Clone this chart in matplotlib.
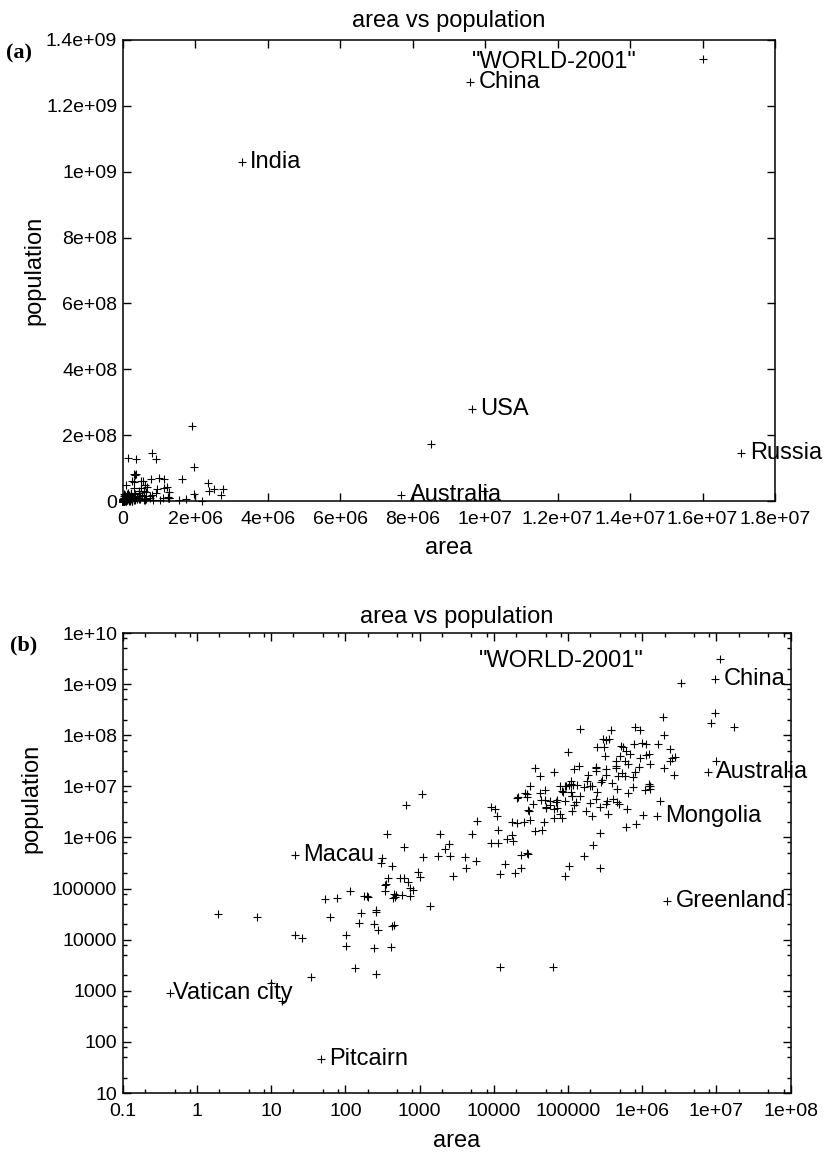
import numpy as np
import matplotlib
matplotlib.use("Agg")
import matplotlib.pyplot as plt
from matplotlib.ticker import FuncFormatter, LogLocator, NullFormatter

plt.rcParams['font.family'] = ['Liberation Sans', 'DejaVu Sans']

# "WORLD-2001" : country, area (km^2), population
countries = [
    "Afghanistan", "Albania", "Algeria", "American Samoa", "Andorra", "Angola",
    "Anguilla", "Antigua and Barbuda", "Argentina", "Armenia", "Aruba", "Australia",
    "Austria", "Azerbaijan", "Bahamas", "Bahrain", "Bangladesh", "Barbados",
    "Belarus", "Belgium", "Belize", "Benin", "Bermuda", "Bhutan", "Bolivia",
    "Bosnia", "Botswana", "Brazil", "British Virgin Islands", "Brunei", "Bulgaria",
    "Burkina Faso", "Burma", "Burundi", "Cambodia", "Cameroon", "Canada",
    "Cape Verde", "Cayman Islands", "Central African Rep", "Chad", "Chile", "China",
    "Christmas Island", "Cocos Islands", "Colombia", "Comoros", "Congo DR",
    "Congo Rep", "Cook Islands", "Costa Rica", "Cote d'Ivoire", "Croatia", "Cuba",
    "Cyprus", "Czech Republic", "Denmark", "Djibouti", "Dominica",
    "Dominican Republic", "East Timor", "Ecuador", "Egypt", "El Salvador",
    "Equatorial Guinea", "Eritrea", "Estonia", "Ethiopia", "Falkland Islands",
    "Faroe Islands", "Fiji", "Finland", "France", "French Guiana",
    "French Polynesia", "Gabon", "Gambia", "Gaza Strip", "Georgia", "Germany",
    "Ghana", "Gibraltar", "Greece", "Greenland", "Grenada", "Guadeloupe", "Guam",
    "Guatemala", "Guernsey", "Guinea", "Guinea-Bissau", "Guyana", "Haiti",
    "Vatican city", "Honduras", "Hong Kong", "Hungary", "Iceland", "India",
    "Indonesia", "Iran", "Iraq", "Ireland", "Isle of Man", "Israel", "Italy",
    "Jamaica", "Japan", "Jersey", "Jordan", "Kazakhstan", "Kenya", "Kiribati",
    "Korea North", "Korea South", "Kuwait", "Kyrgyzstan", "Laos", "Latvia",
    "Lebanon", "Lesotho", "Liberia", "Libya", "Liechtenstein", "Lithuania",
    "Luxembourg", "Macau", "Macedonia", "Madagascar", "Malawi", "Malaysia",
    "Maldives", "Mali", "Malta", "Marshall Islands", "Martinique", "Mauritania",
    "Mauritius", "Mayotte", "Mexico", "Micronesia", "Moldova", "Monaco",
    "Mongolia", "Montserrat", "Morocco", "Mozambique", "Namibia", "Nauru",
    "Nepal", "Netherlands", "Netherlands Antilles", "New Caledonia",
    "New Zealand", "Nicaragua", "Niger", "Nigeria", "Niue", "Norfolk Island",
    "Northern Mariana", "Norway", "Oman", "Pakistan", "Palau", "Panama",
    "Papua New Guinea", "Paraguay", "Peru", "Philippines", "Pitcairn", "Poland",
    "Portugal", "Puerto Rico", "Qatar", "Reunion", "Romania", "Russia", "Rwanda",
    "Saint Helena", "Saint Kitts", "Saint Lucia", "Saint Pierre", "Saint Vincent",
    "Samoa", "San Marino", "Sao Tome", "Saudi Arabia", "Senegal", "Seychelles",
    "Sierra Leone", "Singapore", "Slovakia", "Slovenia", "Solomon Islands",
    "Somalia", "South Africa", "Spain", "Sri Lanka", "Sudan", "Suriname",
    "Svalbard", "Swaziland", "Sweden", "Switzerland", "Syria", "Taiwan",
    "Tajikistan", "Tanzania", "Thailand", "Togo", "Tokelau", "Tonga", "Trinidad",
    "Tunisia", "Turkey", "Turkmenistan", "Turks and Caicos", "Tuvalu", "Uganda",
    "Ukraine", "UAE", "United Kingdom", "USA", "Uruguay", "Uzbekistan", "Vanuatu",
    "Venezuela", "Vietnam", "Virgin Islands", "Wallis and Futuna", "West Bank",
    "Western Sahara", "Yemen", "Yugoslavia", "Zambia", "Zimbabwe",
]

area = [
    647500, 28748, 2381740, 199, 468, 1246700,
    102, 443, 2766890, 29800, 193, 7686850,
    83858, 86600, 13940, 620, 144000, 430,
    207600, 30510, 22966, 112620, 53, 47000, 1098580,
    51129, 600370, 8511965, 153, 5770, 110910,
    274200, 678500, 27830, 181040, 475440, 9976140,
    4033, 262, 622984, 1284000, 756950, 9596960,
    135, 14, 1138910, 2170, 2345410,
    342000, 240, 51100, 322460, 56538, 110860,
    9250, 78866, 43094, 23000, 754,
    48730, 15007, 283560, 1001450, 21040,
    28051, 121320, 45226, 1127127, 12173,
    1399, 18270, 337030, 547030, 91000,
    4167, 267667, 11300, 360, 69700, 357021,
    238540, 6.5, 131940, 2175600, 340, 1780, 549,
    108890, 78, 245857, 36120, 214970, 27750,
    0.44, 112090, 1092, 93030, 103000, 3287590,
    1919440, 1648000, 437072, 70280, 572, 20770, 301230,
    10990, 377835, 116, 92300, 2717300, 582650, 811,
    120540, 98480, 17820, 198500, 236800, 64589,
    10400, 30355, 111370, 1759540, 160, 65200,
    2586, 21, 25333, 587040, 118480, 329750,
    300, 1240000, 316, 181, 1100, 1030700,
    1860, 374, 1972550, 702, 33843, 1.95,
    1565000, 102, 446550, 801590, 825418, 21,
    140800, 41526, 960, 19060,
    268680, 129494, 1267000, 923768, 260, 34.6,
    477, 324220, 212460, 803940, 458, 78200,
    462840, 406750, 1285220, 300000, 47, 312685,
    92391, 9104, 11437, 2517, 237500, 17075200, 26338,
    410, 261, 620, 242, 340,
    2860, 61.2, 1001, 1960582, 196190, 455,
    71740, 647.5, 48845, 20273, 28450,
    637657, 1219912, 504782, 65610, 2505810, 163270,
    62049, 17363, 449964, 41290, 185180, 35980,
    143100, 945087, 514000, 56785, 10, 748, 5128,
    163610, 780580, 488100, 430, 26, 236040,
    603700, 82880, 244820, 9629091, 176220, 447400, 12200,
    912050, 329560, 352, 274, 5860,
    266000, 527970, 102350, 752614, 390580,
]

population = [
    26813057, 3510484, 31736053, 67084, 67627, 10366031,
    12132, 66422, 37384816, 3336100, 70007, 19357594,
    8150835, 7771092, 297852, 645361, 131269860, 275330,
    10350194, 10258762, 256062, 6590782, 63503, 2049412, 8300463,
    3922205, 1586119, 174468575, 20812, 343653, 7707495,
    12272289, 41994678, 6223897, 12491501, 15803220, 31592805,
    405163, 35527, 3576884, 8707078, 15328467, 1273111290,
    2771, 633, 40349388, 596202, 53624718,
    2894336, 20611, 3773057, 16393221, 4334142, 11184023,
    762887, 10264212, 5352815, 460700, 70786,
    8581477, 952618, 13183978, 69536644, 6237662,
    486060, 4298269, 1423316, 65891874, 2895,
    45661, 844330, 5175783, 59551227, 177562,
    253506, 1221175, 1411205, 1178119, 4989285, 83029536,
    19894014, 27649, 10623835, 56352, 89227, 431170, 157557,
    12974361, 64342, 7613870, 1315822, 697181, 6964549,
    890, 6406052, 7210505, 10106017, 277906, 1029991145,
    228437870, 66128965, 23331985, 3840838, 73489, 5938093, 57679825,
    2665636, 126771662, 89361, 5153378, 16731303, 30765916, 94149,
    21968228, 47904370, 2041961, 4753003, 5635967, 2385231,
    3627774, 2177062, 3225837, 5240599, 32528, 3610535,
    442972, 453733, 2046209, 15982563, 10548250, 22229040,
    310764, 11008518, 394583, 70822, 418454, 2747312,
    1189825, 163366, 101879171, 134597, 4431570, 31842,
    2654999, 7574, 30645305, 19371057, 1797677, 12088,
    25284463, 15981472, 212226, 204863,
    3864129, 4918393, 10355156, 126635626, 2124, 1879,
    74612, 4503440, 2622198, 144616639, 19092, 2845647,
    5049055, 5734139, 27483864, 82841518, 47, 38633912,
    10066253, 3937316, 769152, 732570, 22364022, 145470197, 7312756,
    7266, 38756, 158178, 6928, 115942,
    179058, 27336, 165034, 22757092, 10284929, 79326,
    5426618, 4300419, 5414937, 1930132, 480442,
    7488773, 43586097, 40037995, 19408635, 36080373, 433998,
    2868, 1104343, 8875053, 7283274, 16728808, 22370461,
    6578681, 36232074, 61797751, 5153088, 1445, 104227, 1169682,
    9705102, 66493970, 4603244, 18122, 10991, 23985712,
    48760474, 2407460, 59647790, 278058881, 3360105, 25155064, 192910,
    23916810, 79939014, 122211, 15435, 2090713,
    250559, 18078035, 10677290, 9770199, 11365366,
]

labels_a = ["China", "India", "USA", "Russia", "Australia"]
labels_b = ["China", "Australia", "Mongolia", "Macau", "Greenland",
            "Vatican city", "Pitcairn"]

xticks_a = np.arange(0, 1.8e7 + 1, 2e6)
yticks_a = np.arange(0, 1.4e9 + 1, 2e8)
xticks_b = [0.1, 1, 10, 100, 1000, 1e4, 1e5, 1e6, 1e7, 1e8]
yticks_b = [10, 100, 1000, 1e4, 1e5, 1e6, 1e7, 1e8, 1e9, 1e10]

area = np.array(area, dtype=float)
population = np.array(population, dtype=float)

W, H = 827, 1157
fig = plt.figure(figsize=(W / 100, H / 100), dpi=100)

def frac(l, t, r, b):
    return [l / W, 1 - b / H, (r - l) / W, (b - t) / H]

ax1 = fig.add_axes(frac(122.7, 40, 775, 501))
ax2 = fig.add_axes(frac(122.7, 633, 790.7, 1093))

gfmt = FuncFormatter(lambda v, p: '%g' % v)

for ax in (ax1, ax2):
    ax.plot(area, population, '+', color='black', ms=6.2, mew=0.8,
            label='"WORLD-2001"', clip_on=False)
    ax.tick_params(which='both', direction='in', top=True, right=True,
                   labelsize=14, width=1.0)
    ax.tick_params(which='major', length=6)
    ax.tick_params(which='minor', length=3)
    ax.tick_params(axis='x', pad=7)
    ax.tick_params(axis='y', pad=4)
    for s in ax.spines.values():
        s.set_linewidth(1.1)
    ax.set_xlabel('area', fontsize=17)
    ax.set_ylabel('population', fontsize=17)

# (a) linear
ax1.set_xlim(0, 1.8e7)
ax1.set_ylim(0, 1.4e9)
ax1.set_xticks(xticks_a)
ax1.set_yticks(yticks_a)
ax1.xaxis.set_major_formatter(gfmt)
ax1.yaxis.set_major_formatter(gfmt)
ax1.set_title('area vs population', fontsize=17, pad=9)
ax1.xaxis.set_label_coords(0.5, -0.078)
ax1.yaxis.set_label_coords(-0.118, 0.5)
for name in labels_a:
    i = countries.index(name)
    ax1.annotate(name, (area[i], population[i]), xytext=(6, 0),
                 textcoords='offset points', fontsize=17, va='center',
                 ha='left', annotation_clip=False)
ax1.legend(loc='center right', bbox_to_anchor=(0.9725, 0.953),
           markerfirst=False, frameon=False, fontsize=17, numpoints=1,
           handlelength=4.6, handletextpad=0.5, borderpad=0, borderaxespad=0)

# (b) log-log
ax2.set_xscale('log')
ax2.set_yscale('log')
ax2.set_xlim(0.1, 1e8)
ax2.set_ylim(10, 1e10)
ax2.set_xticks(xticks_b)
ax2.set_yticks(yticks_b)
ax2.xaxis.set_major_formatter(gfmt)
ax2.yaxis.set_major_formatter(gfmt)
ax2.xaxis.set_minor_locator(LogLocator(base=10, subs=[2, 5, 8], numticks=20))
ax2.yaxis.set_minor_locator(LogLocator(base=10, subs=[2, 5, 8], numticks=20))
ax2.xaxis.set_minor_formatter(NullFormatter())
ax2.yaxis.set_minor_formatter(NullFormatter())
ax2.set_title('area vs population', fontsize=17, pad=7)
ax2.xaxis.set_label_coords(0.5, -0.08)
ax2.yaxis.set_label_coords(-0.12, 0.64)
for name in labels_b:
    i = countries.index(name)
    dx = 2 if name == "Vatican city" else 6
    ax2.annotate(name, (area[i], population[i]), xytext=(dx, 0),
                 textcoords='offset points', fontsize=17, va='center',
                 ha='left', annotation_clip=False)
ax2.legend(loc='center right', bbox_to_anchor=(0.9915, 0.939),
           markerfirst=False, frameon=False, fontsize=17, numpoints=1,
           handlelength=5.5, handletextpad=0.5, borderpad=0, borderaxespad=0)

fig.text(6 / W, 1 - 53 / H, '(a)', fontsize=16, fontweight='bold',
         family='Liberation Serif', va='center', ha='left')
fig.text(10 / W, 1 - 645 / H, '(b)', fontsize=16, fontweight='bold',
         family='Liberation Serif', va='center', ha='left')

fig.savefig('out.png', dpi=100)
